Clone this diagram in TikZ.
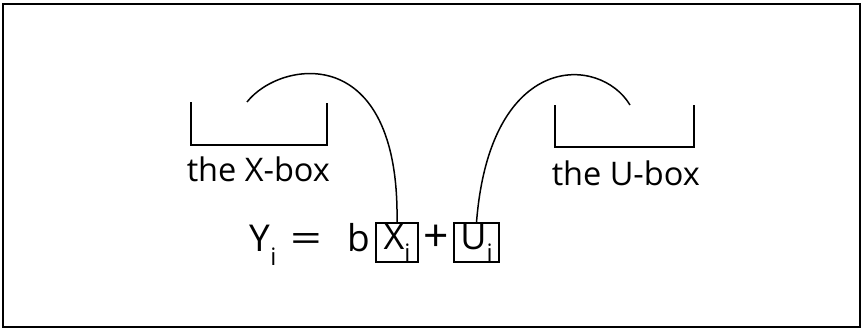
\documentclass[tikz,border=0pt]{standalone}
\usepackage{fontspec}
\setmainfont{Open Sans}
\begin{document}
\begin{tikzpicture}[x=1pt,y=-1pt,
  line width=1.5pt,
  lbl/.style={inner sep=0pt,font=\fontsize{32.5}{34}\selectfont},
  eq/.style={inner sep=0pt,font=\fontsize{37}{39}\selectfont},
  vbox/.style={draw,line width=1.3pt,inner sep=0pt,minimum height=39pt,font=\fontsize{36}{38}\selectfont}]
\useasboundingbox (0,0) rectangle (862,329);
\draw[line width=1.6pt] (3,4) rectangle (860,327);
% brackets
\draw (191,102) -- (191,145) -- (327,145) -- (327,103);
\draw (555,105) -- (555,147) -- (694,147) -- (694,105);
% labels
\node[lbl,anchor=base west] (xlab) at (186,181) {the X-box};
\node[lbl,anchor=base west] (ulab) at (551,185) {the U-box};
% equation
\node[eq,anchor=base west] (y) at (249,251) {Y\raisebox{-0.38em}{\fontsize{24}{26}\selectfont i}};
\node[eq,anchor=base] (equal) at (306,251) {\scalebox{1.5}[1]{=}};
\node[eq,anchor=base] (b) at (359,251) {b};
\node[vbox,minimum width=42pt] (xi) at (397,242.5) {X\raisebox{-0.33em}{\fontsize{24}{26}\selectfont i}};
\node[eq,anchor=base] (plus) at (436,251) {\scalebox{1.2}{+}};
\node[vbox,minimum width=45pt] (ui) at (476.5,242.5) {U\raisebox{-0.33em}{\fontsize{24}{26}\selectfont i}};
% curves
\coordinate (c1) at (247,102);
\coordinate (c2) at (630,105);
\draw (c1) .. controls (280,60) and (400,40) .. (xi.north);
\draw (ui.north) .. controls (490,50) and (600,55) .. (c2);
\end{tikzpicture}
\end{document}
